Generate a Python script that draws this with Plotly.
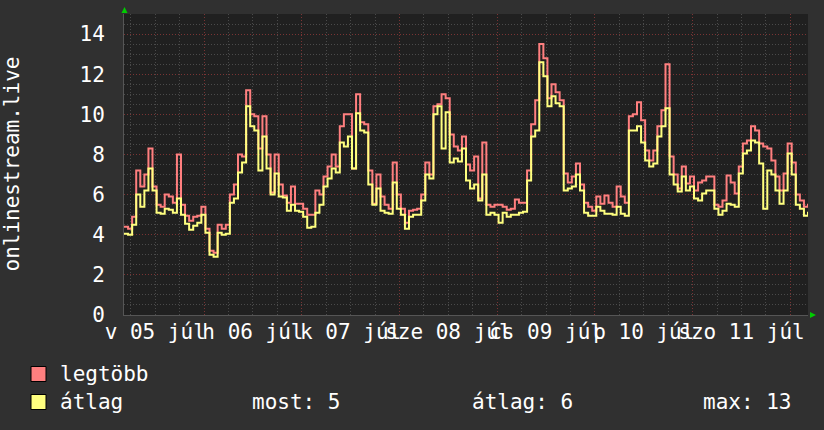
import plotly.graph_objects as go
import pandas as pd

# ---- data (hourly, 2020-07-05 04:20 .. 2020-07-12 04:20) ----
start_time = "2020-07-05 04:20"
end_time = "2020-07-12 04:20"

legtobb = [4.4, 4.3, 4.9, 7.2, 6.4, 7.0, 8.3, 6.4, 5.5, 5.4,
           6.0, 5.9, 5.6, 8.0, 5.5, 4.95, 4.7, 4.9, 4.95, 5.4,
           4.3, 3.2, 3.1, 4.5, 4.3, 4.5, 6.0, 6.5, 8.0, 7.9,
           11.2, 10.0, 9.9, 8.3, 9.9, 8.0, 6.1, 8.0, 6.5, 5.95,
           5.6, 6.4, 5.55, 5.55, 5.3, 5.0, 5.0, 6.2, 6.0, 6.9,
           7.4, 8.0, 7.4, 9.4, 10.0, 10.0, 7.3, 11.0, 9.6, 9.5,
           7.2, 5.55, 7.0, 5.9, 5.5, 5.3, 7.6, 6.0, 5.3, 4.6,
           5.2, 5.25, 5.3, 6.0, 7.6, 7.0, 10.4, 10.5, 11.0, 10.8,
           9.0, 8.4, 8.2, 8.9, 7.5, 7.2, 7.9, 5.8, 8.6, 5.5,
           5.4, 5.5, 5.5, 5.4, 5.25, 5.3, 5.75, 5.6, 5.6, 7.2,
           9.5, 10.7, 13.5, 12.8, 10.8, 11.5, 11.1, 10.7, 7.05, 6.6,
           6.9, 7.55, 6.5, 5.6, 5.4, 5.2, 5.9, 5.55, 5.95, 5.6,
           5.4, 6.4, 5.9, 5.6, 9.9, 10.0, 10.6, 9.7, 8.2, 7.7,
           8.2, 9.4, 10.2, 12.5, 7.9, 7.0, 6.3, 7.4, 6.55, 6.9,
           6.2, 6.6, 6.7, 6.9, 6.9, 5.5, 5.4, 5.7, 6.95, 6.6,
           6.05, 7.4, 8.55, 8.7, 9.4, 9.2, 8.55, 8.4, 8.3, 7.7,
           6.9, 6.2, 7.05, 8.55, 7.6, 6.0, 5.7, 5.4, 5.55]

atlag = [4.05, 4.0, 4.5, 6.0, 5.4, 6.2, 7.3, 6.2, 5.1, 5.05,
         5.3, 5.25, 5.1, 5.8, 5.0, 4.55, 4.25, 4.45, 4.6, 5.0,
         4.1, 3.0, 2.9, 4.1, 4.0, 4.05, 5.6, 5.8, 7.1, 7.6,
         10.4, 9.4, 9.2, 7.2, 8.9, 7.3, 6.0, 7.05, 5.9, 5.85,
         5.2, 5.5, 5.2, 5.15, 4.9, 4.35, 4.4, 5.1, 5.5, 6.4,
         6.8, 7.3, 7.1, 8.6, 8.4, 8.9, 7.3, 10.05, 9.2, 9.1,
         6.5, 5.5, 6.3, 5.2, 5.1, 5.05, 6.6, 5.3, 5.0, 4.3,
         4.9, 5.0, 5.0, 5.7, 7.0, 6.8, 10.0, 10.4, 8.3, 10.1,
         7.6, 7.8, 7.65, 8.3, 6.7, 6.3, 6.5, 5.7, 7.0, 5.0,
         5.1, 5.0, 4.6, 5.1, 4.9, 5.0, 5.0, 5.1, 5.15, 6.7,
         8.9, 9.2, 12.6, 11.9, 10.4, 10.9, 10.55, 10.4, 6.2, 6.3,
         6.4, 7.0, 6.2, 5.1, 4.95, 4.95, 5.4, 5.2, 5.05, 5.05,
         5.0, 5.4, 5.05, 4.95, 9.2, 9.2, 9.4, 8.6, 7.7, 7.4,
         7.55, 8.9, 9.4, 10.3, 7.0, 6.5, 6.15, 6.9, 6.2, 6.4,
         5.8, 5.7, 6.05, 6.2, 6.2, 5.3, 5.0, 5.2, 5.55, 5.5,
         5.4, 7.05, 8.05, 8.2, 8.7, 8.6, 7.55, 5.3, 7.2, 7.0,
         6.2, 5.55, 6.2, 8.05, 7.0, 5.5, 5.3, 4.95, 5.15]

day_label_dates = ["2020-07-05 12:00", "2020-07-06 12:00", "2020-07-07 12:00",
                   "2020-07-08 12:00", "2020-07-09 12:00", "2020-07-10 12:00",
                   "2020-07-11 12:00"]
day_labels = ["v 05 júl", "h 06 júl", "k 07 júl", "sze 08 júl",
              "cs 09 júl", "p 10 júl", "szo 11 júl"]

series_names = ["legtöbb", "átlag"]
stat_labels = ["most: 5", "átlag: 6", "max: 13"]
y_title = "onlinestream.live"

times = pd.date_range(start_time, periods=len(atlag), freq="h")

# ---- styling ----
FONT = "DejaVu Sans Mono"
FS = 21
RED = "#ff7f7f"
YEL = "#ffff7f"
PAPER = "#303030"
PLOT = "#202020"
MINOR = "#4a4a4a"
MAJOR = "#7a3434"

W, H = 824, 430
L, R, T, B = 124, 808, 14, 315


def px(x):
    return (x - L) / (R - L)


def py(y):
    return (B - y) / (B - T)


fig = go.Figure()
fig.add_trace(go.Scatter(x=times, y=legtobb, mode="lines", line=dict(color=RED, width=2, shape="hv"),
                         name=series_names[0], showlegend=False))
fig.add_trace(go.Scatter(x=times, y=atlag, mode="lines", line=dict(color=YEL, width=2, shape="hv"),
                         name=series_names[1], showlegend=False))
# invisible trace to activate label axis
fig.add_trace(go.Scatter(x=[times[0]], y=[0], xaxis="x2", mode="markers",
                         marker=dict(opacity=0), showlegend=False, hoverinfo="skip"))

fig.update_layout(
    width=W, height=H,
    margin=dict(l=L, r=W - R, t=T, b=H - B),
    paper_bgcolor=PAPER, plot_bgcolor=PLOT,
    font=dict(family=FONT, size=FS, color="white"),
    xaxis=dict(
        type="date", range=[start_time, end_time],
        tick0="2020-07-05 00:00", dtick=86400000,
        showgrid=True, gridcolor=MAJOR, griddash="1px,2px", gridwidth=1,
        showticklabels=False, ticks="",
        minor=dict(dtick=6 * 3600000, tick0="2020-07-05 00:00", showgrid=True,
                   gridcolor=MINOR, griddash="1px,2px", gridwidth=1),
        showline=True, linecolor="#555555", linewidth=1,
        zeroline=False,
    ),
    xaxis2=dict(
        type="date", range=[start_time, end_time], overlaying="x", side="bottom", anchor="y",
        tickmode="array", tickvals=day_label_dates, ticktext=day_labels,
        tickangle=0, showgrid=False, ticks="", ticklabelstandoff=2,
        tickfont=dict(family=FONT, size=FS, color="white"),
    ),
    yaxis=dict(
        range=[0, 15], dtick=2, tick0=0,
        showgrid=True, gridcolor=MAJOR, griddash="1px,2px", gridwidth=1,
        minor=dict(dtick=0.5, showgrid=True, gridcolor=MINOR, griddash="1px,2px", gridwidth=1),
        ticks="", ticklabelstandoff=14,
        tickfont=dict(family=FONT, size=FS, color="white"),
        showline=True, linecolor="#555555", linewidth=1, zeroline=False,
    ),
)

# y-axis title
annotations = [dict(text=y_title, x=px(11), y=0.5, xref="paper", yref="paper",
                    textangle=-90, showarrow=False, xanchor="center", yanchor="middle",
                    font=dict(family=FONT, size=FS, color="white"))]

# legend
legend_rows = [374, 402]
for name, ry in zip(series_names, legend_rows):
    annotations.append(dict(text=name, x=px(58), y=py(ry), xref="paper", yref="paper",
                            showarrow=False, xanchor="left", yanchor="middle",
                            font=dict(family=FONT, size=FS, color="white")))
for txt, sx in zip(stat_labels, [250, 470, 701]):
    annotations.append(dict(text=txt, x=px(sx), y=py(legend_rows[1]), xref="paper", yref="paper",
                            showarrow=False, xanchor="left", yanchor="middle",
                            font=dict(family=FONT, size=FS, color="white")))

shapes = []
for col, ry in zip([RED, YEL], legend_rows):
    shapes.append(dict(type="rect", xref="paper", yref="paper",
                       x0=px(31), x1=px(46), y0=py(ry - 7.5), y1=py(ry + 7.5),
                       fillcolor=col, line=dict(color="black", width=1)))

# green arrows
shapes.append(dict(type="path", xref="paper", yref="paper",
                   path=f"M {px(121.5)},{py(13)} L {px(124.5)},{py(7)} L {px(127.5)},{py(13)} Z",
                   fillcolor="#00cc00", line=dict(width=0)))
shapes.append(dict(type="path", xref="paper", yref="paper",
                   path=f"M {px(810)},{py(312)} L {px(816)},{py(315)} L {px(810)},{py(318)} Z",
                   fillcolor="#00cc00", line=dict(width=0)))

fig.update_layout(annotations=annotations, shapes=shapes)
fig.write_html("out.html")
